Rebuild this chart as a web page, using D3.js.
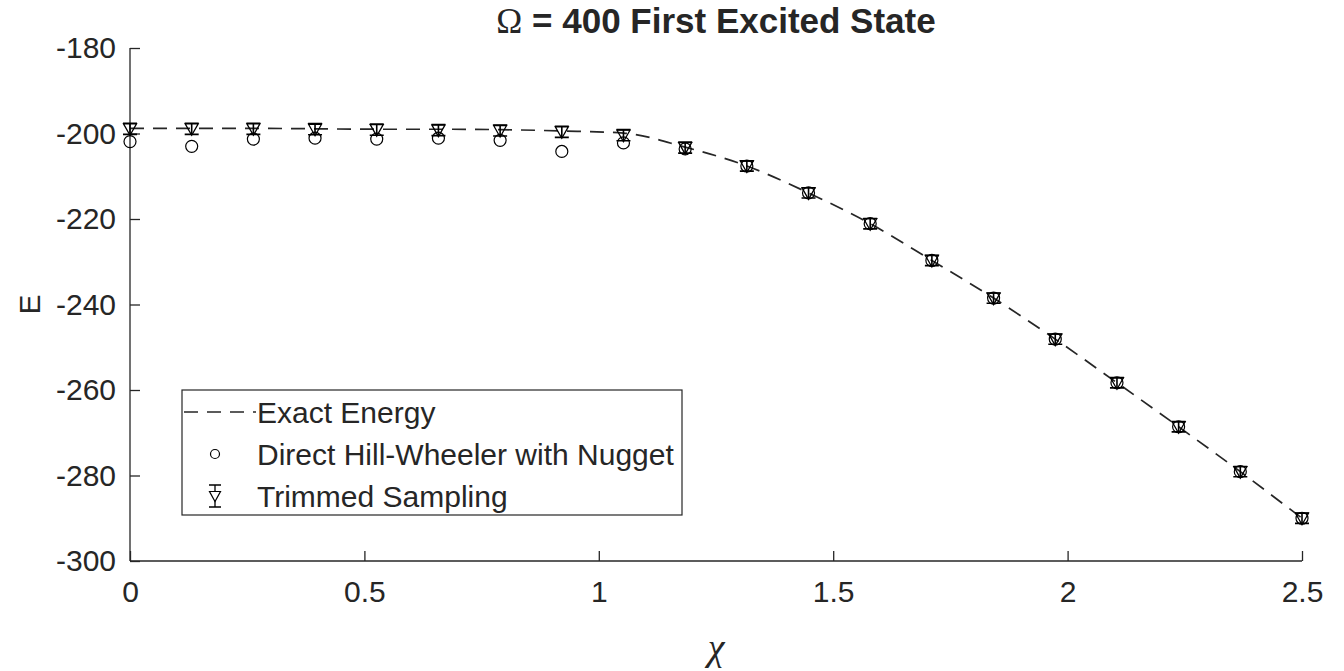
<!DOCTYPE html>
<html>
<head>
<meta charset="utf-8">
<style>
  body { margin: 0; background: #fff; }
  text { font-family: Arial, "Liberation Sans", Helvetica, sans-serif; fill: #262626; }
</style>
</head>
<body>
<script src="https://cdn.jsdelivr.net/npm/d3@7"></script>
<script>

// chi grid (20 points from 0 to 2.5)
var chi = [0, 0.1316, 0.2632, 0.3947, 0.5263, 0.6579, 0.7895, 0.9211, 1.0526, 1.1842,
           1.3158, 1.4474, 1.5789, 1.7105, 1.8421, 1.9737, 2.1053, 2.2368, 2.3684, 2.5];

var exactEnergy = [-198.8, -198.8, -198.8, -198.9, -199.0, -199.0, -199.1, -199.4, -199.9, -203.2,
                   -207.6, -213.9, -221.1, -229.7, -238.5, -248.1, -258.3, -268.6, -279.1, -290.0];

var hillWheeler = [-201.9, -203.0, -201.3, -201.1, -201.3, -201.1, -201.6, -204.2, -202.2, -203.6,
                   -207.6, -213.9, -221.1, -229.7, -238.5, -248.1, -258.3, -268.6, -279.1, -290.0];

var trimmed = [-198.9, -198.9, -198.9, -199.0, -199.1, -199.2, -199.3, -199.6, -200.4, -203.3,
               -207.6, -213.9, -221.1, -229.7, -238.5, -248.1, -258.3, -268.6, -279.1, -290.0];

var trimmedErr = [1.3, 1.3, 1.3, 1.3, 1.3, 1.3, 1.3, 1.3, 1.3, 1.3,
                  1.2, 1.2, 1.2, 1.2, 1.2, 1.2, 1.2, 1.2, 1.2, 1.2];

var xTicks = [0, 0.5, 1, 1.5, 2, 2.5];
var yTicks = [-180, -200, -220, -240, -260, -280, -300];

var legendLabels = ["Exact Energy", "Direct Hill-Wheeler with Nugget", "Trimmed Sampling"];

var W = 1344, H = 671;
var margin = {top: 48, right: 42, bottom: 110, left: 130},
    width = W - margin.left - margin.right,
    height = H - margin.top - margin.bottom;

var x = d3.scaleLinear().domain([0, 2.5]).range([0, width]);
var y = d3.scaleLinear().domain([-300, -180]).range([height, 0]);

var svg = d3.select("body").append("svg")
  .attr("width", W)
  .attr("height", H);

var g = svg.append("g")
  .attr("transform", "translate(" + margin.left + "," + margin.top + ")");

// axes (MATLAB style, ticks inward, box off)
var xAxis = d3.axisBottom(x).tickValues(xTicks).tickSize(-10).tickPadding(14)
  .tickFormat(function(d) { return d; });
var yAxis = d3.axisLeft(y).tickValues(yTicks).tickSize(-10).tickPadding(14)
  .tickFormat(function(d) { return d; });

var gx = g.append("g")
  .attr("transform", "translate(0," + height + ")")
  .call(xAxis);
var gy = g.append("g").call(yAxis);

[gx, gy].forEach(function(a) {
  a.select(".domain").attr("stroke", "#262626").attr("stroke-width", 1.3);
  a.selectAll(".tick line").attr("stroke", "#262626").attr("stroke-width", 1.3);
  a.selectAll(".tick text").style("font-size", "30px").attr("fill", "#262626");
});
gx.select(".domain").attr("d", "M0,0H" + width);
gy.select(".domain").attr("d", "M0," + height + "V0");
gx.selectAll(".tick text").attr("dy", "0.9em");

// exact energy dashed line
var line = d3.line()
  .x(function(d, i) { return x(chi[i]); })
  .y(function(d) { return y(d); })
  .curve(d3.curveMonotoneX);

g.append("path")
  .datum(exactEnergy)
  .attr("d", line)
  .attr("fill", "none")
  .attr("stroke", "#262626")
  .attr("stroke-width", 1.7)
  .attr("stroke-dasharray", "14,9");

// hill-wheeler circles
g.selectAll(".hw")
  .data(hillWheeler)
  .enter().append("circle")
  .attr("class", "hw")
  .attr("cx", function(d, i) { return x(chi[i]); })
  .attr("cy", function(d) { return y(d); })
  .attr("r", 6)
  .attr("fill", "none")
  .attr("stroke", "#000")
  .attr("stroke-width", 1.2);

// trimmed sampling: error bars + downward triangles
var tri = "M-6.5,-5L6.5,-5L0,6.5Z";

var ts = g.selectAll(".ts")
  .data(trimmed)
  .enter().append("g")
  .attr("class", "ts")
  .attr("transform", function(d, i) { return "translate(" + x(chi[i]) + "," + y(d) + ")"; });

ts.append("path")
  .attr("d", function(d, i) {
    var up = y(d + trimmedErr[i]) - y(d), dn = y(d - trimmedErr[i]) - y(d);
    return "M0," + up + "V" + dn + "M-7," + up + "H7M-7," + dn + "H7";
  })
  .attr("stroke", "#000")
  .attr("stroke-width", 1.6)
  .attr("fill", "none");

ts.append("path")
  .attr("d", tri)
  .attr("fill", "none")
  .attr("stroke", "#000")
  .attr("stroke-width", 1.3);

// legend
var lg = svg.append("g").attr("transform", "translate(182,390)");
lg.append("rect")
  .attr("width", 500).attr("height", 125)
  .attr("fill", "#fff").attr("stroke", "#262626").attr("stroke-width", 1.2);

var rowY = [22, 64, 106];

lg.append("line")
  .attr("x1", 2).attr("x2", 74).attr("y1", rowY[0]).attr("y2", rowY[0])
  .attr("stroke", "#262626").attr("stroke-width", 1.7).attr("stroke-dasharray", "14,9");

lg.append("circle")
  .attr("cx", 33).attr("cy", rowY[1]).attr("r", 4.5)
  .attr("fill", "none").attr("stroke", "#000").attr("stroke-width", 1.2);

var lt = lg.append("g").attr("transform", "translate(33," + rowY[2] + ")");
lt.append("path")
  .attr("d", "M0,-11V11M-6,-11H6M-6,11H6")
  .attr("stroke", "#000").attr("stroke-width", 1.3).attr("fill", "none");
lt.append("path")
  .attr("d", "M-5.5,-4.5L5.5,-4.5L0,5.5Z")
  .attr("fill", "#fff").attr("stroke", "#000").attr("stroke-width", 1.2);

lg.selectAll(".lab")
  .data(legendLabels)
  .enter().append("text")
  .attr("class", "lab")
  .attr("x", 75)
  .attr("y", function(d, i) { return rowY[i]; })
  .attr("dy", "0.35em")
  .style("font-size", "30px")
  .text(function(d) { return d; });

// title
var title = svg.append("text")
  .attr("x", margin.left + width / 2)
  .attr("y", 33)
  .attr("text-anchor", "middle")
  .style("font-size", "35px")
  .style("font-weight", "bold");
title.append("tspan")
  .style("font-family", "'Liberation Serif', 'Times New Roman', serif")
  .style("font-weight", "normal")
  .text("\u03A9");
title.append("tspan").text(" = 400 First Excited State");

// axis labels
svg.append("text")
  .attr("transform", "translate(40," + (margin.top + height / 2) + ") rotate(-90)")
  .attr("text-anchor", "middle")
  .style("font-size", "30px")
  .text("E");

svg.append("text")
  .attr("x", margin.left + width / 2)
  .attr("y", 660)
  .attr("text-anchor", "middle")
  .style("font-family", "'Liberation Serif', 'Times New Roman', serif")
  .style("font-style", "italic")
  .style("font-size", "38px")
  .text("\u03C7");

</script>
</body>
</html>
